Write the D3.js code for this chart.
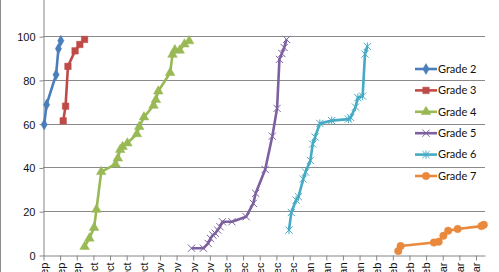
<!DOCTYPE html>
<meta charset="utf-8">
<html>
<head>
	<script src="https://cdn.jsdelivr.net/npm/d3@7"></script>
	<style>
		body { margin: 0; background: #fff; }
		svg { display: block; font-family: Lato, "Open Sans", sans-serif; }
		.axis path, .axis line { stroke: #868686; }
		.axis text { fill: #111; font-size: 11px; }
		.grid line { stroke: #8a8a8a; stroke-width: 1; }
		.legend text { font-size: 11px; fill: #111; }
	</style>
</head>
<body>
<div id="chart"></div>
<script>
	// series (dates = day of the test, scores in %)
	var seriesNames = ["Grade 2", "Grade 3", "Grade 4", "Grade 5", "Grade 6", "Grade 7"];

	var grade2Dates = ["2013-09-15","2013-09-16","2013-09-20","2013-09-21","2013-09-22"];
	var grade2Scores = [59.6, 68.7, 82.4, 94.3, 97.9];

	var grade3Dates = ["2013-09-23","2013-09-24","2013-09-25","2013-09-28","2013-09-30","2013-10-02"];
	var grade3Scores = [61.3, 68.0, 86.2, 93.3, 96.2, 98.5];

	var grade4Dates = ["2013-10-02","2013-10-04","2013-10-06","2013-10-07","2013-10-09","2013-10-15","2013-10-16",
		"2013-10-17","2013-10-18","2013-10-20","2013-10-24","2013-10-25","2013-10-27","2013-10-31","2013-11-01",
		"2013-11-02","2013-11-07","2013-11-08","2013-11-09","2013-11-11","2013-11-13","2013-11-15"];
	var grade4Scores = [3.8, 7.6, 12.5, 20.8, 38.0, 41.5, 44.2, 48.1, 49.5, 51.1, 55.3, 58.6, 63.0, 68.3, 70.9,
		74.8, 83.3, 91.6, 93.7, 93.5, 96.3, 97.8];

	var grade5Dates = ["2013-11-16","2013-11-21","2013-11-23","2013-11-24","2013-11-25","2013-11-26","2013-11-27",
		"2013-11-28","2013-11-29","2013-12-03","2013-12-09","2013-12-12","2013-12-13","2013-12-17","2013-12-20",
		"2013-12-22","2013-12-23","2013-12-24","2013-12-25","2013-12-26"];
	var grade5Scores = [3.1, 3.1, 5.3, 7.6, 9.1, 9.9, 11.4, 12.9, 15.2, 15.2, 17.5, 23.6, 28.2, 39.1, 54.3,
		67.0, 89.4, 92.1, 94.8, 98.5];

	var grade6Dates = ["2013-12-27","2013-12-28","2013-12-30","2013-12-31","2014-01-02","2014-01-03","2014-01-05",
		"2014-01-06","2014-01-07","2014-01-09","2014-01-14","2014-01-21","2014-01-22","2014-01-24","2014-01-25",
		"2014-01-27","2014-01-28","2014-01-29"];
	var grade6Scores = [11.4, 19.4, 25.1, 26.6, 34.7, 37.9, 43.2, 50.7, 53.9, 60.1, 61.4, 62.1, 62.8, 67.6, 71.9,
		72.6, 91.8, 95.3];

	var grade7Dates = ["2014-02-11","2014-02-12","2014-02-26","2014-02-28","2014-03-02","2014-03-04","2014-03-08",
		"2014-03-18","2014-03-19"];
	var grade7Scores = [1.8, 4.1, 5.7, 6.1, 8.8, 11.1, 11.9, 13.2, 13.8];

	var yTicks = [0, 20, 40, 60, 80, 100];
	var yMax = 120; // top of the value axis sits just above the picture
	var axisStart = "2013-09-15", axisEnd = "2014-03-20";

	var colors = ["#4a7ebb", "#be4b48", "#98b954", "#7d60a0", "#46aac5", "#e8893d"];
	var markers = ["diamond", "square", "triangle", "x", "star", "circle"];

	var svgWidth = 499, svgHeight = 272;
	var plot = {left: 43, right: 485, top: -7.6, bottom: 255};

	var parse = d3.timeParse("%Y-%m-%d");
	var allDates = [grade2Dates, grade3Dates, grade4Dates, grade5Dates, grade6Dates, grade7Dates];
	var allScores = [grade2Scores, grade3Scores, grade4Scores, grade5Scores, grade6Scores, grade7Scores];

	var series = seriesNames.map(function(name, i) {
		return {
			name: name, color: colors[i], marker: markers[i],
			points: allDates[i].map(function(d, j) {
				// Excel puts a day's point in the middle of the day
				return {date: d3.timeHour.offset(parse(d), 12), score: allScores[i][j]};
			})
		};
	});

	var x = d3.scaleTime()
		.domain([parse(axisStart), parse(axisEnd)])
		.range([plot.left, plot.right]);

	var y = d3.scaleLinear()
		.domain([0, yMax])
		.range([plot.bottom, plot.top]);

	var svg = d3.select("#chart").append("svg")
		.attr("width", svgWidth)
		.attr("height", svgHeight);

	// chart border (left edge only shows)
	svg.append("line")
		.attr("x1", 0.5).attr("x2", 0.5).attr("y1", 0).attr("y2", svgHeight)
		.attr("stroke", "#8c8c8c");

	// gridlines
	svg.append("g")
		.attr("class", "grid")
		.selectAll("line")
		.data(yTicks.filter(function(t) { return t > 0; }))
		.enter().append("line")
			.attr("x1", plot.left).attr("x2", plot.right)
			.attr("y1", function(d) { return Math.round(y(d)) + 0.5; })
			.attr("y2", function(d) { return Math.round(y(d)) + 0.5; });

	// y axis
	svg.append("g")
		.attr("class", "axis")
		.attr("transform", "translate(" + (plot.left + 0.5) + ",0.5)")
		.call(d3.axisLeft(y).tickValues(yTicks).tickSize(4).tickSizeOuter(0).tickPadding(4))
		.selectAll("text").attr("dy", "0.35em");

	// x axis, weekly ticks
	var weekTicks = d3.range(0, 27).map(function(i) { return d3.timeDay.offset(parse(axisStart), i * 7); });

	var xAxis = svg.append("g")
		.attr("class", "axis")
		.attr("transform", "translate(0," + (plot.bottom + 0.5) + ")")
		.call(d3.axisBottom(x).tickValues(weekTicks).tickFormat(d3.timeFormat("%-d-%b"))
			.tickSize(5).tickSizeOuter(0));

	xAxis.selectAll(".tick line").attr("transform", "translate(0.5,0)");
	xAxis.selectAll("text")
		.attr("text-anchor", "end")
		.attr("transform", "rotate(-90)")
		.attr("x", -7)
		.attr("y", 0)
		.attr("dy", "0.4em");

	// lines
	var line = d3.line()
		.x(function(d) { return x(d.date); })
		.y(function(d) { return y(d.score); });

	function markerPath(type) {
		if (type === "diamond") return d3.symbol().type(d3.symbolDiamond).size(34)();
		if (type === "square") return d3.symbol().type(d3.symbolSquare).size(42)();
		if (type === "triangle") return d3.symbol().type(d3.symbolTriangle).size(40)();
		if (type === "circle") return d3.symbol().type(d3.symbolCircle).size(44)();
		var r = 3.6;
		var p = "M" + (-r) + "," + (-r) + "L" + r + "," + r + "M" + (-r) + "," + r + "L" + r + "," + (-r);
		if (type === "star") p += "M0," + (-r - 0.5) + "L0," + (r + 0.5);
		return p;
	}

	var groups = svg.selectAll(".series")
		.data(series)
		.enter().append("g")
			.attr("class", "series");

	groups.append("path")
		.attr("d", function(d) { return line(d.points); })
		.attr("fill", "none")
		.attr("stroke", function(d) { return d.color; })
		.attr("stroke-width", 2.6)
		.attr("stroke-linejoin", "round");

	groups.each(function(s) {
		d3.select(this).selectAll(".marker")
			.data(s.points)
			.enter().append("path")
				.attr("class", "marker")
				.attr("transform", function(d) { return "translate(" + x(d.date) + "," + y(d.score) + ")"; })
				.attr("d", markerPath(s.marker))
				.attr("fill", (s.marker === "x" || s.marker === "star") ? "none" : s.color)
				.attr("stroke", s.color)
				.attr("stroke-width", (s.marker === "x" || s.marker === "star") ? 1 : 0.5);
	});

	// legend
	var legend = svg.append("g")
		.attr("class", "legend")
		.selectAll("g")
		.data(series)
		.enter().append("g")
			.attr("transform", function(d, i) { return "translate(415," + (69 + i * 21.4) + ")"; });

	legend.append("line")
		.attr("x1", 0).attr("x2", 22)
		.attr("stroke", function(d) { return d.color; })
		.attr("stroke-width", 2.6);

	legend.append("path")
		.attr("transform", "translate(11,0)")
		.attr("d", function(d) { return markerPath(d.marker); })
		.attr("fill", function(d) { return (d.marker === "x" || d.marker === "star") ? "none" : d.color; })
		.attr("stroke", function(d) { return d.color; })
		.attr("stroke-width", function(d) { return (d.marker === "x" || d.marker === "star") ? 1 : 0.5; });

	legend.append("text")
		.attr("x", 23)
		.attr("dy", "0.35em")
		.text(function(d) { return d.name; });
</script>
</body>
</html>
